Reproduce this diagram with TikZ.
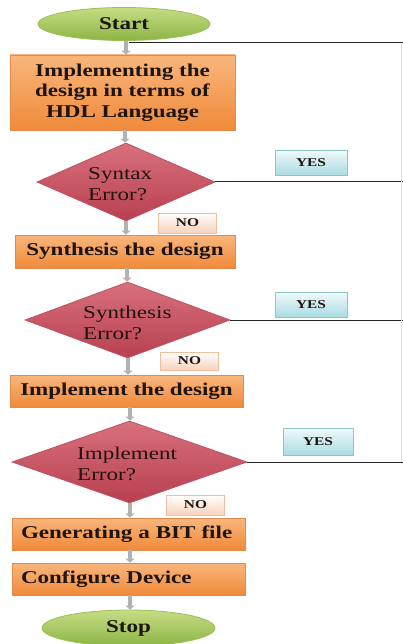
\documentclass[tikz,border=0pt]{standalone}
\usepackage{fontspec}
\setmainfont{Liberation Serif}[FakeStretch=1.28]
\usetikzlibrary{shapes.geometric,arrows.meta}
\definecolor{recttop}{HTML}{F9B67C}
\definecolor{rectbot}{HTML}{F08A3A}
\definecolor{rectline}{HTML}{E08A4C}
\definecolor{diatop}{HTML}{D8707E}
\definecolor{diabot}{HTML}{B8404F}
\definecolor{dialine}{HTML}{C0505E}
\definecolor{elltop}{HTML}{C6DC84}
\definecolor{ellbot}{HTML}{8CB545}
\definecolor{ellline}{HTML}{9BC058}
\definecolor{yestop}{HTML}{F2FAFB}
\definecolor{yesbot}{HTML}{A8DCE2}
\definecolor{yesline}{HTML}{8EC6C8}
\definecolor{notop}{HTML}{FFFFFF}
\definecolor{nobot}{HTML}{F8D2BC}
\definecolor{noline}{HTML}{EEC0A0}
\definecolor{txt}{HTML}{1E1410}
\tikzset{
  x=1pt, y=-1pt,
  procbox/.style={rectangle, draw=rectline, line width=0.8pt, top color=recttop, bottom color=rectbot, inner sep=0pt, text=txt, font=\bfseries\fontsize{18}{20.5}\selectfont, align=center},
  decbox/.style={diamond, draw=dialine, line width=0.8pt, top color=diatop, bottom color=diabot, inner sep=0pt},
  dectext/.style={anchor=west, align=left, text=txt, inner sep=0pt, font=\fontsize{18}{20.5}\selectfont},
  termbox/.style={ellipse, draw=ellline, line width=0.8pt, top color=elltop, bottom color=ellbot, inner sep=0pt, text=txt, font=\bfseries\fontsize{18}{20}\selectfont},
  yesbox/.style={rectangle, draw=yesline, line width=0.8pt, top color=yestop, bottom color=yesbot, inner sep=0pt, minimum width=72pt, minimum height=25pt, text=txt, font=\bfseries\fontsize{12}{14}\selectfont},
  nobox/.style={rectangle, draw=noline, line width=0.8pt, top color=notop, bottom color=nobot, inner sep=0pt, minimum width=58pt, minimum height=20pt, text=txt, font=\bfseries\fontsize{12}{14}\selectfont},
  flow/.style={draw=gray!60, line width=4pt, -{Triangle[width=9pt,length=4pt]}},
  loopline/.style={draw=black!85, line width=1pt},
}
\begin{document}
\begin{tikzpicture}
\useasboundingbox[fill=white] (0,0) rectangle (403,644);
% nodes
\node[termbox, minimum width=172pt, minimum height=33pt] (start) at (124,24) {Start};
\node[procbox, minimum width=225pt, minimum height=75pt] (r1) at (122.5,92.5) {Implementing the\\design in terms of\\HDL Language};
\node[decbox, minimum width=178pt, minimum height=78pt] (d1) at (126,182) {};
\node[dectext] (d1t) at (88,184) {Syntax\\Error?};
\node[yesbox] (y1) at (311,162.5) {YES};
\node[nobox] (n1) at (187.5,223) {NO};
\node[procbox, minimum width=220pt, minimum height=33pt] (r2) at (125,251.5) {Synthesis the design};
\node[decbox, minimum width=205pt, minimum height=76pt] (d2) at (127.5,320) {};
\node[dectext] (d2t) at (83,323) {Synthesis\\Error?};
\node[yesbox] (y2) at (311,304.5) {YES};
\node[nobox, minimum height=18pt] (n2) at (189.5,361) {NO};
\node[procbox, minimum width=233pt, minimum height=32pt] (r3) at (126.5,391) {Implement the design};
\node[decbox, minimum width=235pt, minimum height=82pt] (d3) at (129.5,462) {};
\node[dectext] (d3t) at (77,464) {Implement\\Error?};
\node[yesbox, minimum width=70pt, minimum height=27pt] (y3) at (318,441.5) {YES};
\node[nobox] (n3) at (195.5,505) {NO};
\node[procbox, minimum width=233pt, minimum height=32pt, text width=215pt, align=left] (r4) at (128.5,534) {Generating a BIT file};
\node[procbox, minimum width=233pt, minimum height=32pt, text width=215pt, align=left] (r5) at (128.5,579) {Configure Device};
\node[termbox, minimum width=173pt, minimum height=36pt] (stop) at (128.5,628) {Stop};
% feedback lines
\coordinate (fb0) at (129,43);
\coordinate (fbr0) at (403,43);
\coordinate (fbr1) at (403,182);
\coordinate (fbr2) at (403,320);
\coordinate (fbr3) at (403,462);
\draw[loopline] (fb0) -- (fbr0);
\draw[loopline] (d1.east) -- (fbr1);
\draw[loopline] (d2.east) -- (fbr2);
\draw[loopline] (d3.east) -- (fbr3);
\draw[draw=gray!25, line width=0.8pt] (401.5,43) -- (401.5,462);
% flow arrows
\draw[flow] (start.south -| 126,0) -- (r1.north -| 126,0);
\draw[flow] (r1.south -| 125,0) -- (d1.north -| 125,0);
\draw[flow] (d1.south -| 126,0) -- (r2.north -| 126,0);
\draw[flow] (r2.south -| 127,0) -- (d2.north -| 127,0);
\draw[flow] (d2.south -| 128,0) -- (r3.north -| 128,0);
\draw[flow] (r3.south -| 130,0) -- (d3.north -| 130,0);
\draw[flow] (d3.south -| 130,0) -- (r4.north -| 130,0);
\draw[flow] (r4.south -| 130,0) -- (r5.north -| 130,0);
\draw[flow] (r5.south -| 130,0) -- (stop.north -| 130,0);
\end{tikzpicture}
\end{document}
